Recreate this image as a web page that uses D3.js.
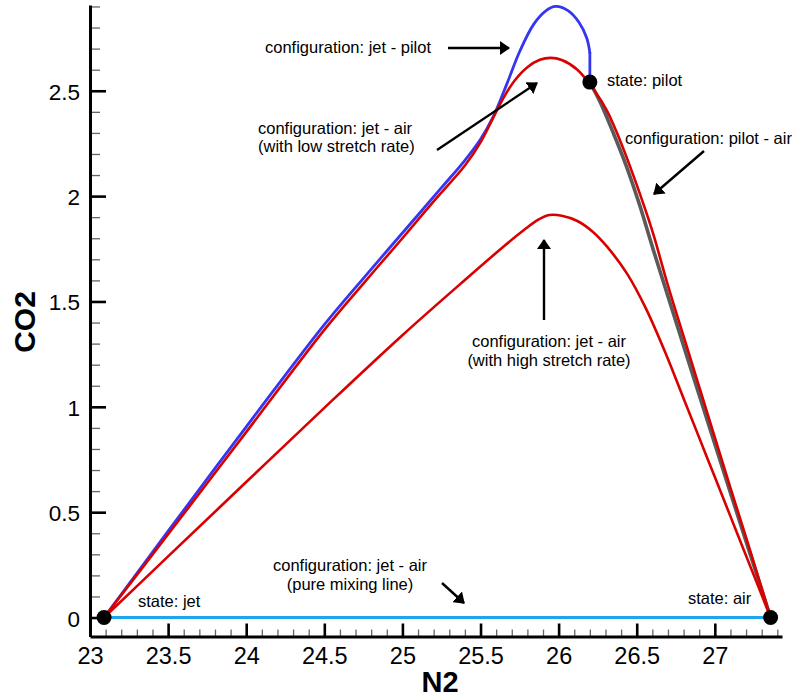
<!DOCTYPE html>
<html><head><meta charset="utf-8">
<script src="https://cdn.jsdelivr.net/npm/d3@7"></script>
<style>
body{margin:0;background:#fff;}
svg{display:block;font-family:"Liberation Sans",Arial,sans-serif;}
</style></head>
<body><svg id="chart" width="794" height="700"></svg>
<script>
// ---- data ----
const xTicks = [23, 23.5, 24, 24.5, 25, 25.5, 26, 26.5, 27];
const yTicks = [0, 0.5, 1, 1.5, 2, 2.5];
const xMinor = d3.range(231, 275).map(v => v / 10).filter(v => Math.abs(v*2 - Math.round(v*2)) > 1e-6);
const yMinor = d3.range(1, 30).map(v => v / 10).filter(v => Math.abs(v*2 - Math.round(v*2)) > 1e-6);

const jetPilot = [[23.09,0],[23.5,0.41],[24.0,0.905],[24.5,1.39],[24.75,1.61],[25.0,1.825],[25.25,2.04],[25.4,2.17],[25.5,2.27],[25.58,2.375],[25.67,2.535],[25.75,2.685],[25.84,2.815],[25.92,2.88],[25.98,2.90],[26.06,2.88],[26.13,2.825],[26.18,2.75],[26.20,2.68]];
const jetPilotDrop = [[26.20,2.68],[26.20,2.541]];
const jetAirLow = [[23.09,0],[23.5,0.395],[24.0,0.88],[24.5,1.365],[24.75,1.585],[25.0,1.80],[25.2,1.975],[25.4,2.145],[25.5,2.255],[25.58,2.37],[25.65,2.47],[25.72,2.55],[25.80,2.612],[25.88,2.647],[25.95,2.656],[26.02,2.646],[26.12,2.60],[26.23,2.50],[26.31,2.405],[26.39,2.27],[26.48,2.095],[26.56,1.925],[26.61,1.81],[26.70,1.575],[26.80,1.335],[26.90,1.095],[27.00,0.855],[27.10,0.615],[27.20,0.38],[27.30,0.14],[27.357,0]];
const jetAirHigh = [[23.09,0],[23.5,0.29],[24.0,0.643],[24.5,0.995],[25.0,1.34],[25.4,1.602],[25.65,1.762],[25.78,1.84],[25.87,1.888],[25.94,1.91],[26.02,1.907],[26.12,1.882],[26.22,1.83],[26.31,1.76],[26.44,1.63],[26.56,1.465],[26.69,1.245],[26.80,1.04],[26.95,0.76],[27.10,0.48],[27.25,0.2],[27.357,0]];
const pilotAir = [[26.20,2.541],[26.27,2.44],[26.35,2.30],[26.43,2.15],[26.52,1.955],[26.606,1.745],[26.98,0.87],[27.357,0]];
const pureMixing = [[23.09,0],[27.36,0]];
const states = [{name:"state: jet",n2:23.09,co2:0},{name:"state: pilot",n2:26.20,co2:2.541},{name:"state: air",n2:27.357,co2:0}];

// ---- scales ----
const svg = d3.select("#chart");
const x = d3.scaleLinear().domain([23, 27.43]).range([90, 782]);
const y = d3.scaleLinear().domain([-0.09, 2.907]).range([636.5, 5]);

// ---- axes ----
const ax = svg.append("g");
ax.append("g").attr("transform","translate(0,636.5)")
  .call(d3.axisBottom(x).tickValues(xMinor).tickSize(-7).tickSizeOuter(0).tickFormat(""))
  .call(g=>{g.select(".domain").remove();g.selectAll("line").attr("stroke","#666").attr("stroke-width",1.3);});
ax.append("g").attr("transform","translate(90,0)")
  .call(d3.axisLeft(y).tickValues(yMinor).tickSize(-10).tickSizeOuter(0).tickFormat(""))
  .call(g=>{g.select(".domain").remove();g.selectAll("line").attr("stroke","#666").attr("stroke-width",1.3);});
const xa = ax.append("g").attr("transform","translate(0,636.5)")
  .call(d3.axisBottom(x).tickValues(xTicks).tickSize(-13).tickSizeOuter(0).tickPadding(0).tickFormat(d3.format("")));
xa.select(".domain").attr("stroke","#000").attr("stroke-width",3);
xa.selectAll(".tick line").attr("stroke","#000").attr("stroke-width",2.6);
xa.selectAll(".tick text").attr("y",27.5).attr("dy",0).attr("font-size",23.5).attr("fill","#000")
  .attr("font-family","'Liberation Sans',Arial,sans-serif");
const ya = ax.append("g").attr("transform","translate(90,0)")
  .call(d3.axisLeft(y).tickValues(yTicks).tickSize(-16).tickSizeOuter(0).tickPadding(10).tickFormat(d3.format("")));
ya.select(".domain").attr("stroke","#000").attr("stroke-width",3);
ya.selectAll(".tick line").attr("stroke","#000").attr("stroke-width",2.6);
ya.selectAll(".tick text").attr("dy",0).attr("y",8.5).attr("font-size",22.5).attr("fill","#000")
  .attr("font-family","'Liberation Sans',Arial,sans-serif");

svg.append("text").attr("x",440).attr("y",692).attr("text-anchor","middle")
  .attr("font-size",29).attr("font-weight","bold").text("N2");
svg.append("text").attr("transform","translate(35,322) rotate(-90)").attr("text-anchor","middle")
  .attr("font-size",30).attr("font-weight","bold").text("CO2");

// ---- lines ----
const smooth = d3.line().x(d=>x(d[0])).y(d=>y(d[1])).curve(d3.curveCatmullRom.alpha(0.5));
const straight = d3.line().x(d=>x(d[0])).y(d=>y(d[1]));
const plot = svg.append("g").attr("fill","none").attr("stroke-linejoin","round").attr("stroke-linecap","round");
plot.append("path").attr("d",straight(pureMixing)).attr("stroke","#1ea6ec").attr("stroke-width",3);
plot.append("path").attr("d",smooth(pilotAir)).attr("stroke","#5a5a5a").attr("stroke-width",3.6);
plot.append("path").attr("d",smooth(jetPilot)).attr("stroke","#3535f2").attr("stroke-width",2.8);
plot.append("path").attr("d",straight(jetPilotDrop)).attr("stroke","#3535f2").attr("stroke-width",2.8);
plot.append("path").attr("d",smooth(jetAirHigh)).attr("stroke","#d90000").attr("stroke-width",2.6);
plot.append("path").attr("d",smooth(jetAirLow)).attr("stroke","#d90000").attr("stroke-width",2.6);

svg.append("g").selectAll("circle").data(states).join("circle")
  .attr("cx",d=>x(d.n2)).attr("cy",d=>y(d.co2)).attr("r",7.5).attr("fill","#000");

// ---- annotations ----
const defs = svg.append("defs");
defs.append("marker").attr("id","ah").attr("viewBox","0 0 10 14").attr("refX",9).attr("refY",7)
  .attr("markerWidth",4.3).attr("markerHeight",6).attr("markerUnits","strokeWidth").attr("orient","auto")
  .append("path").attr("d","M0,0 L10,7 L0,14 Z").attr("fill","#000");
const ann = svg.append("g").attr("font-size",16.5).attr("fill","#000");
function label(lines, px, py, anchor, lh){
  const t = ann.append("text").attr("text-anchor",anchor||"start");
  lines.forEach((s,i)=>t.append("tspan").attr("x",px).attr("y",py+i*(lh||18.5)).text(s));
}
function arrow(x1,y1,x2,y2){
  ann.append("line").attr("x1",x1).attr("y1",y1).attr("x2",x2).attr("y2",y2)
    .attr("stroke","#000").attr("stroke-width",2.4).attr("marker-end","url(#ah)");
}
label(["configuration: jet - pilot"],265,53);
arrow(448,48,509,48);
label(["configuration: jet - air","(with low stretch rate)"],258,133.5,"start",18.5);
arrow(437,150,537,83);
label(["state: pilot"],607,86);
label(["configuration: pilot - air"],625,143.5);
arrow(704,151,654,194);
arrow(544,320,544,240);
label(["configuration: jet - air","(with high stretch rate)"],549,346.5,"middle",19.5);
label(["configuration: jet - air","(pure mixing line)"],350,570.5,"middle",19);
arrow(442,583,464,603);
label(["state: jet"],138,606.5);
label(["state: air"],688,603.5);
</script></body></html>
